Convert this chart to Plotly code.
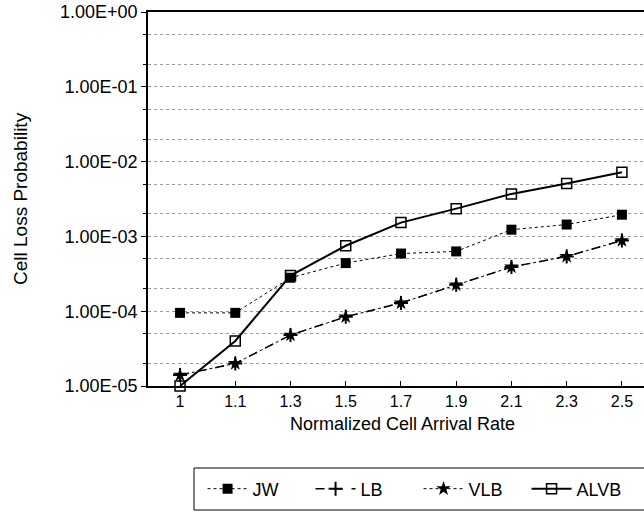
import plotly.graph_objects as go

rates = ["1", "1.1", "1.3", "1.5", "1.7", "1.9", "2.1", "2.3", "2.5"]
jw = [9.5e-5, 9.5e-5, 2.8e-4, 4.4e-4, 5.9e-4, 6.3e-4, 1.23e-3, 1.44e-3, 1.95e-3]
lb = [1.4e-5, 2.0e-5, 4.8e-5, 8.4e-5, 1.29e-4, 2.25e-4, 3.9e-4, 5.4e-4, 8.8e-4]
vlb = [1.4e-5, 2.0e-5, 4.8e-5, 8.4e-5, 1.29e-4, 2.25e-4, 3.9e-4, 5.4e-4, 8.8e-4]
alvb = [1.0e-5, 4.0e-5, 3.0e-4, 7.5e-4, 1.53e-3, 2.35e-3, 3.7e-3, 5.1e-3, 7.2e-3]
ytickvals = [1e0, 1e-1, 1e-2, 1e-3, 1e-4, 1e-5]
yticktext = ["1.00E+00", "1.00E-01", "1.00E-02", "1.00E-03", "1.00E-04", "1.00E-05"]

FONT = "Liberation Sans, Arial, sans-serif"

fig = go.Figure()
fig.add_trace(go.Scatter(x=rates, y=jw, name="JW", mode="lines+markers",
                         line=dict(color="black", width=1, dash="dot"),
                         marker=dict(symbol="square", size=10, color="black"),
                         cliponaxis=False))
fig.add_trace(go.Scatter(x=rates, y=lb, name="LB", mode="lines+markers",
                         line=dict(color="black", width=1.5, dash="dash"),
                         marker=dict(symbol="cross-thin", size=10, color="black",
                                     line=dict(color="black", width=2)),
                         cliponaxis=False))
fig.add_trace(go.Scatter(x=rates, y=vlb, name="VLB", mode="lines+markers",
                         line=dict(color="black", width=1, dash="dot"),
                         marker=dict(symbol="star", size=11, color="black"),
                         cliponaxis=False))
fig.add_trace(go.Scatter(x=rates, y=alvb, name="ALVB", mode="lines+markers",
                         line=dict(color="black", width=2),
                         marker=dict(symbol="square-open", size=10, color="black",
                                     line=dict(color="black", width=1.5)),
                         cliponaxis=False))

fig.update_layout(
    width=644, height=511,
    margin=dict(l=148, r=0, t=12, b=125, autoexpand=False),
    plot_bgcolor="white", paper_bgcolor="white",
    font=dict(family=FONT, color="black", size=16),
    showlegend=True,
    legend=dict(orientation="h", x=0.11, xanchor="left", y=(386 - 489) / 374, yanchor="middle",
                bgcolor="rgba(0,0,0,0)", borderwidth=0,
                font=dict(size=18, family=FONT),
                entrywidth=53, entrywidthmode="pixels", itemwidth=40),
    xaxis=dict(type="category", range=[-0.58, 8.4], showgrid=False,
               showline=True, linecolor="black", linewidth=1.5, mirror=True,
               ticks="inside", ticklen=5, tickcolor="black",
               tickfont=dict(size=16, family=FONT)),
    yaxis=dict(type="log", range=[-5, 0], tickvals=ytickvals, ticktext=yticktext,
               showline=True, linecolor="black", linewidth=1.5,
               ticks="outside", ticklen=5, tickcolor="black",
               tickfont=dict(size=18, family=FONT),
               showgrid=True, gridcolor="#9a9a9a", griddash="dot", gridwidth=1,
               minor=dict(ticks="outside", ticklen=3, tickcolor="black",
                          showgrid=True, gridcolor="#9a9a9a", griddash="dot", gridwidth=1)),
)

fig.add_annotation(text="Cell Loss Probability", textangle=-90, xref="paper", yref="paper",
                   x=(20 - 148) / 496, xanchor="center", y=0.5, yanchor="middle",
                   showarrow=False, font=dict(size=19, family=FONT))
fig.add_annotation(text="Normalized Cell Arrival Rate", xref="paper", yref="paper",
                   x=(402 - 148) / 496, xanchor="center", y=(386 - 424) / 374, yanchor="middle",
                   showarrow=False, font=dict(size=18, family=FONT))
fig.add_shape(type="rect", xref="paper", yref="paper",
              x0=(194 - 148) / 496, x1=1.02, y0=(386 - 510) / 374, y1=(386 - 468) / 374,
              line=dict(color="black", width=1))

fig.write_html("out.html", config={"displayModeBar": False},
               post_script="document.body.style.margin='0';document.body.style.overflow='hidden';")
